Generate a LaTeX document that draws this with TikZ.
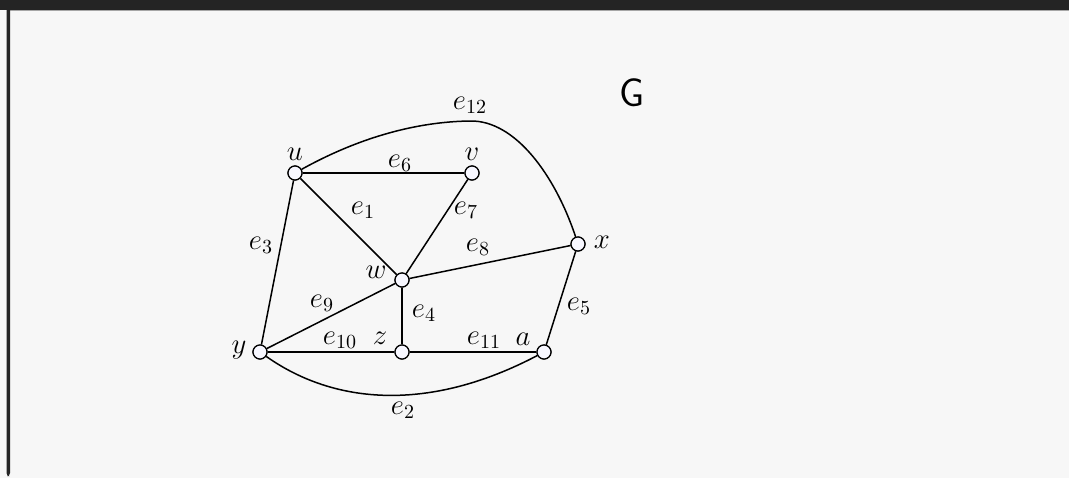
\documentclass[tikz,border=0pt]{standalone}
\usepackage{amsmath}
\begin{document}
\begin{tikzpicture}[x=0.5pt,y=-0.5pt,
  vtx/.style={circle,draw=black,fill=white!97!blue,line width=0.6pt,minimum size=7pt,inner sep=0pt},
  edge/.style={line width=0.75pt,draw=black},
  lbl/.style={inner sep=0pt,font=\fontsize{14.5}{16}\selectfont}]
% frame
\fill[fill=black!3] (0,0) rectangle (1069,478);
\useasboundingbox (0,0) rectangle (1069,478);
\fill[fill=black!86] (0,0) rectangle (1069,10);
\draw[black!35,line width=0.5pt] (9,10.5) -- (1069,10.5);
\fill[fill=black!86,rounded corners=1.5pt] (6.5,0) -- (10,0) -- (10,476) -- (6.5,476) -- cycle;
% vertices
\node[vtx] (u) at (295,173) {};
\node[vtx] (v) at (472,173) {};
\node[vtx] (w) at (402,280) {};
\node[vtx] (x) at (578,244) {};
\node[vtx] (y) at (260,352) {};
\node[vtx] (z) at (402,352) {};
\node[vtx] (a) at (544,352) {};
\coordinate (top) at (470,121);
% edges
\draw[edge] (u) -- (v);
\draw[edge] (u) -- (w);
\draw[edge] (v) -- (w);
\draw[edge] (u) -- (y);
\draw[edge] (w) -- (x);
\draw[edge] (w) -- (y);
\draw[edge] (w) -- (z);
\draw[edge] (y) -- (z);
\draw[edge] (z) -- (a);
\draw[edge] (x) -- (a);
\draw[edge] (u) .. controls (340,148) and (400,122) .. (top)
                .. controls (515,120) and (555,175) .. (x);
\draw[edge] (y) .. controls (335,405) and (430,412) .. (a);
% redraw vertices on top
\foreach \n in {u,v,w,x,y,z,a} \node[vtx] at (\n) {};
% vertex labels
\node[lbl] (lu) at (295,154) {$u$};
\node[lbl] (lv) at (472,154) {$v$};
\node[lbl] (lw) at (376,272) {$w$};
\node[lbl] (lx) at (602,242) {$x$};
\node[lbl] (ly) at (239,350) {$y$};
\node[lbl] (lz) at (380,338) {$z$};
\node[lbl] (la) at (523,339) {$a$};
% edge labels
\node[lbl] (e12) at (470,105) {$e_{12}$};
\node[lbl] (e6) at (400,163) {$e_{6}$};
\node[lbl] (e1) at (363,210) {$e_{1}$};
\node[lbl] (e7) at (466,210) {$e_{7}$};
\node[lbl] (e3) at (261,245) {$e_{3}$};
\node[lbl] (e8) at (478,247) {$e_{8}$};
\node[lbl] (e9) at (322,303) {$e_{9}$};
\node[lbl] (e4) at (424,313) {$e_{4}$};
\node[lbl] (e10) at (340,340) {$e_{10}$};
\node[lbl] (e11) at (484,340) {$e_{11}$};
\node[lbl] (e5) at (579,306) {$e_{5}$};
\node[lbl] (e2) at (403,410) {$e_{2}$};
\node[inner sep=0pt,font=\sffamily\fontsize{20}{23}\selectfont] (G) at (632,93) {G};
\end{tikzpicture}
\end{document}
